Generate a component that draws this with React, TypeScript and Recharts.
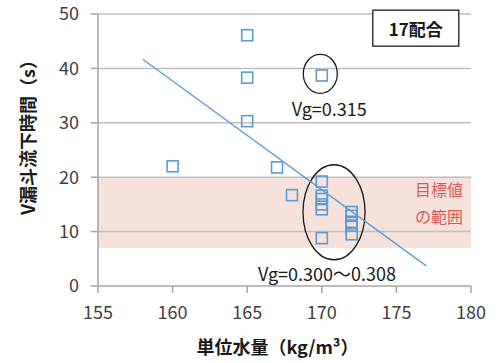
import React from 'react';
import { ScatterChart, Scatter, XAxis, YAxis, ReferenceArea, ReferenceLine, ReferenceDot } from 'recharts';

// 単位水量 (kg/m3) と V漏斗流下時間 (s)
const waterContent = [160, 165, 165, 165, 167, 168, 170, 170, 170, 170, 170, 170, 170, 172, 172, 172, 172, 172];
const funnelTime = [22.0, 46.1, 38.3, 30.3, 21.8, 16.7, 38.7, 19.2, 16.6, 16.0, 15.0, 14.1, 8.8, 13.6, 12.9, 11.8, 11.1, 9.5];

// 近似直線の両端
const trendX = [158, 177];
const trendY = [41.7, 3.7];

// 目標値の範囲
const targetRange = [7, 20];

const xTicks = [155, 160, 165, 170, 175, 180];
const yTicks = [0, 10, 20, 30, 40, 50];

const points = waterContent.map((x, i) => ({ x, y: funnelTime[i] }));
const trend = trendX.map((x, i) => ({ x, y: trendY[i] }));

const BLUE = '#5b9bd5';
const GRID = '#bfbfbf';
const AXIS = '#a6a6a6';
const RED = '#d65a5a';
const FONT = '"Noto Sans CJK JP", "Noto Sans", sans-serif';

const Square = (props: any) => (
  <rect x={props.cx - 5.5} y={props.cy - 5.5} width={11} height={11} fill="none" stroke={BLUE} strokeWidth={1.6} />
);

const textAt = (label: string, opts: any = {}) => (props: any) => (
  <text
    x={props.cx}
    y={props.cy}
    textAnchor="middle"
    dominantBaseline="central"
    fontFamily={FONT}
    fontSize={opts.size || 18}
    fontWeight={opts.bold ? 'bold' : 'normal'}
    fill={opts.color || '#1a1a1a'}
  >
    {label}
  </text>
);

const ellipseAt = (rx: number, ry: number) => (props: any) => (
  <ellipse cx={props.cx} cy={props.cy} rx={rx} ry={ry} fill="none" stroke="#1a1a1a" strokeWidth={1.3} />
);

const boxLabel = (props: any) => (
  <g>
    <rect x={props.cx - 43} y={props.cy - 18} width={86} height={36} fill="#fff" stroke="#1a1a1a" strokeWidth={1.3} />
    <text x={props.cx} y={props.cy} textAnchor="middle" dominantBaseline="central" fontFamily={FONT} fontSize={17} fontWeight="bold" fill="#1a1a1a">
      17配合
    </text>
  </g>
);

const XLabel = (props: any) => {
  const { x, y, width } = props.viewBox;
  return (
    <text x={x + width / 2 - 7} y={y + 60} textAnchor="middle" dominantBaseline="central" fontFamily={FONT} fontSize={18} fontWeight="bold" fill="#1a1a1a">
      単位水量（kg/m³）
    </text>
  );
};

const YLabel = (props: any) => {
  const { y, height } = props.viewBox;
  const cx = 27;
  const cy = y + height / 2 - 17;
  return (
    <text x={cx} y={cy} transform={`rotate(-90 ${cx} ${cy})`} textAnchor="middle" dominantBaseline="central" fontFamily={FONT} fontSize={18} fontWeight="bold" fill="#1a1a1a">
      V漏斗流下時間（s）
    </text>
  );
};

export default function App() {
  const tickStyle = { fontSize: 18, fill: '#404040', fontFamily: FONT };
  return (
    <div style={{ position: 'absolute', left: 0, top: 0, background: '#fff' }}>
      <ScatterChart width={498} height={363} margin={{ top: 14, right: 27, bottom: 0, left: 8 }}>
        <XAxis
          type="number"
          dataKey="x"
          domain={[155, 180]}
          ticks={xTicks}
          height={77}
          tickSize={7}
          tickMargin={13}
          tick={tickStyle}
          axisLine={{ stroke: AXIS, strokeWidth: 1.5 }}
          tickLine={{ stroke: AXIS, strokeWidth: 1.5 }}
          label={<XLabel />}
          allowDataOverflow
        />
        <YAxis
          type="number"
          dataKey="y"
          domain={[0, 50]}
          ticks={yTicks}
          width={90}
          tickSize={7}
          tickMargin={12}
          tick={tickStyle}
          axisLine={{ stroke: AXIS, strokeWidth: 1.5 }}
          tickLine={{ stroke: AXIS, strokeWidth: 1.5 }}
          label={<YLabel />}
          allowDataOverflow
        />
        <ReferenceArea x1={155} x2={180} y1={targetRange[0]} y2={targetRange[1]} fill="#f6e1db" fillOpacity={1} stroke="none" />
        {yTicks.slice(1).map((t) => (
          <ReferenceLine key={t} y={t} stroke={GRID} strokeWidth={1.5} />
        ))}
        <ReferenceDot x={177.85} y={17.9} shape={textAt('目標値', { color: RED, size: 16 })} />
        <ReferenceDot x={177.85} y={12.9} shape={textAt('の範囲', { color: RED, size: 16 })} />
        <ReferenceDot x={176.3} y={47.4} shape={boxLabel} />
        <ReferenceDot x={170.5} y={32.7} shape={textAt('Vg=0.315')} />
        <ReferenceDot x={170.35} y={2.3} shape={textAt('Vg=0.300〜0.308')} />
        <ReferenceDot x={169.9} y={39.0} shape={ellipseAt(17, 19.5)} />
        <ReferenceDot x={170.82} y={13.56} shape={ellipseAt(31, 47.5)} />
        <Scatter data={trend} line={{ stroke: BLUE, strokeWidth: 1.3 }} shape={() => <g />} isAnimationActive={false} />
        <Scatter data={points} shape={Square} isAnimationActive={false} />
      </ScatterChart>
    </div>
  );
}
